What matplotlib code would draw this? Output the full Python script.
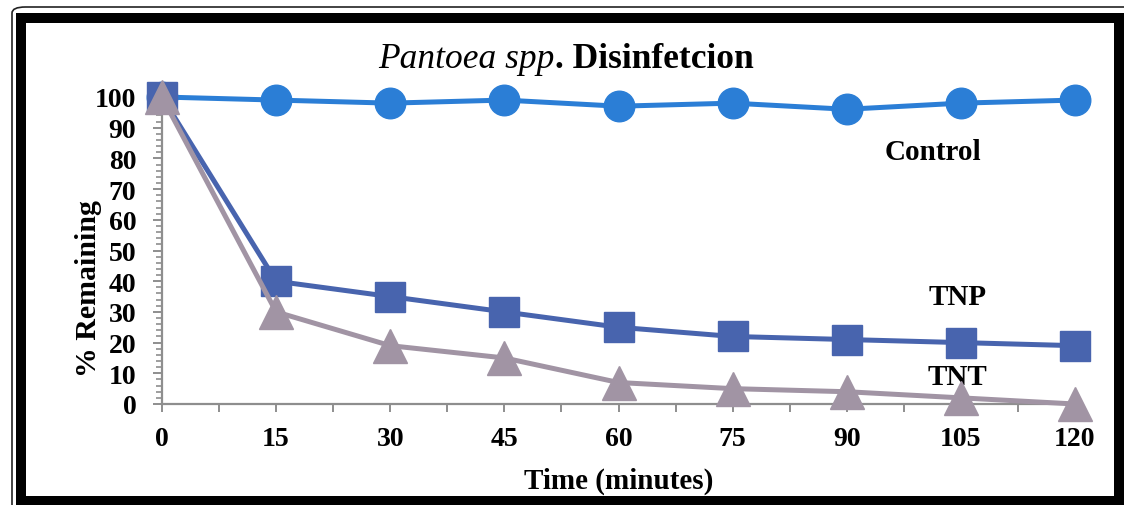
import matplotlib
matplotlib.use("Agg")
import matplotlib.pyplot as plt
from matplotlib.patches import Rectangle, FancyBboxPatch
from matplotlib.ticker import MultipleLocator

plt.rcParams['font.family'] = ['Liberation Serif', 'DejaVu Serif']

time_min = [0, 15, 30, 45, 60, 75, 90, 105, 120]
control = [100, 99, 98, 99, 97, 98, 96, 98, 99]
tnp = [100, 40, 35, 30, 25, 22, 21, 20, 19]
tnt = [100, 30, 19, 15, 7, 5, 4, 2, 0]
x_ticks = [0, 15, 30, 45, 60, 75, 90, 105, 120]
y_ticks = [0, 10, 20, 30, 40, 50, 60, 70, 80, 90, 100]

W, H = 1124, 506
fig = plt.figure(figsize=(W / 100, H / 100), dpi=100)
ax = fig.add_axes([162 / W, 1 - 405 / H, (1075 - 162) / W, (405 - 98) / H])

c_ctrl = '#2B7ED6'
c_tnp = '#4864AE'
c_tnt = '#A194A4'

ax.plot(time_min, control, color=c_ctrl, lw=3.6, marker='o', ms=22,
        clip_on=False, zorder=3)
ax.plot(time_min, tnp, color=c_tnp, lw=3.6, marker='s', ms=22,
        clip_on=False, zorder=4)
ax.plot(time_min, tnt, color=c_tnt, lw=3.6, marker='^', ms=24,
        clip_on=False, zorder=5)

ax.set_xlim(0, 120)
ax.set_ylim(0, 100)
ax.set_xticks(x_ticks)
ax.set_yticks(y_ticks)
ax.xaxis.set_minor_locator(MultipleLocator(7.5))
ax.yaxis.set_minor_locator(MultipleLocator(2))

axis_gray = '#8E8E8E'
for side in ('top', 'right'):
    ax.spines[side].set_visible(False)
for side in ('left', 'bottom'):
    ax.spines[side].set_color(axis_gray)
    ax.spines[side].set_linewidth(1.6)

ax.tick_params(axis='x', which='both', direction='out', length=6, width=1.4,
               color=axis_gray, labelsize=20, pad=10)
ax.tick_params(axis='y', which='major', direction='out', length=6.5, width=1.4,
               color=axis_gray, labelsize=20, pad=12)
ax.tick_params(axis='y', which='minor', direction='out', length=4.5, width=1.2,
               color=axis_gray)
for lab in ax.get_xticklabels() + ax.get_yticklabels():
    lab.set_fontweight('bold')

ax.set_xlabel('Time (minutes)', fontsize=21, fontweight='bold', labelpad=11)
fig.text(88 / W, 1 - 289 / H, '% Remaining', fontsize=21.5, fontweight='bold',
         rotation=90, ha='center', va='center')

ax.text(101.3, 82.4, 'Control', fontsize=21, fontweight='bold', ha='center', va='center')
ax.text(104.6, 34.9, 'TNP', fontsize=21, fontweight='bold', ha='center', va='center')
ax.text(104.6, 9.1, 'TNT', fontsize=21, fontweight='bold', ha='center', va='center')

# two-style title
fig.text(555 / W, 1 - 68 / H, 'Pantoea spp', fontsize=25.5, fontstyle='italic',
         ha='right', va='baseline')
fig.text(555 / W, 1 - 68 / H, '. Disinfetcion', fontsize=25.5, fontweight='bold',
         ha='left', va='baseline')

# frame around the figure
fig.patches.append(FancyBboxPatch((12 / W, 1 - 530 / H), 1140 / W, 522 / H,
                                  boxstyle='round,pad=0,rounding_size=0.012',
                                  transform=fig.transFigure, fill=False,
                                  lw=1.2, ec='#222222'))
fig.patches.append(Rectangle((21 / W, 1 - 502 / H), (1119 - 21) / W, (502 - 19) / H,
                             transform=fig.transFigure, fill=False,
                             lw=7.2, ec='black'))

fig.savefig('out.png', dpi=100)
